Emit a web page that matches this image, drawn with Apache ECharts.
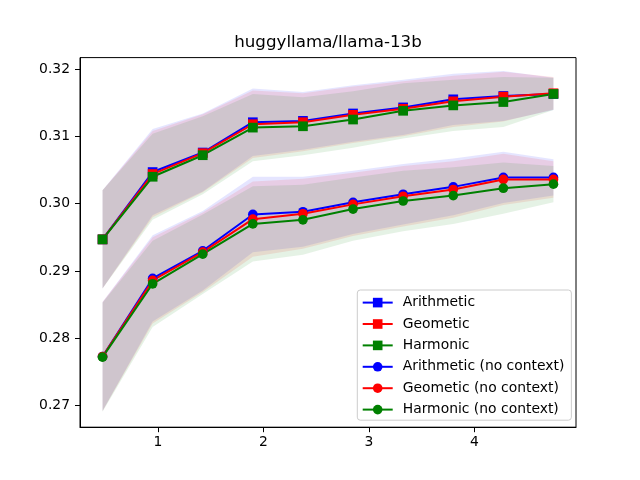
<!DOCTYPE html>
<html>
<head>
<meta charset="utf-8">
<script src="https://cdn.jsdelivr.net/npm/echarts@6/dist/echarts.min.js"></script>
<style>html,body{margin:0;padding:0;background:#fff}#c{width:640px;height:480px}</style>
</head>
<body>
<div id="c"></div>
<script>
const xs = [0.475, 0.95, 1.425, 1.9, 2.375, 2.85, 3.325, 3.8, 4.275, 4.75];
const xTicks = [1, 2, 3, 4];
const yTicks = [0.27, 0.28, 0.29, 0.30, 0.31, 0.32];

const arithmetic = [0.2947, 0.3047, 0.3076, 0.3121, 0.3123, 0.3134, 0.3143, 0.3155, 0.3160, 0.3163];
const geometric  = [0.2947, 0.3044, 0.3075, 0.3118, 0.3121, 0.3132, 0.3141, 0.3152, 0.3159, 0.3164];
const harmonic   = [0.2947, 0.3040, 0.3072, 0.3113, 0.3115, 0.3125, 0.3138, 0.3146, 0.3151, 0.3163];
const stdCtx     = [0.0073, 0.0064, 0.0058, 0.0050, 0.0043, 0.0042, 0.0041, 0.0038, 0.0037, 0.0024];

const arithmeticNC = [0.2773, 0.2889, 0.2930, 0.2984, 0.2988, 0.3002, 0.3014, 0.3025, 0.3039, 0.3039];
const geometricNC  = [0.2773, 0.2886, 0.2928, 0.2977, 0.2985, 0.2999, 0.3011, 0.3021, 0.3036, 0.3036];
const harmonicNC   = [0.2772, 0.2881, 0.2925, 0.2970, 0.2976, 0.2992, 0.3004, 0.3012, 0.3023, 0.3029];
const stdNC        = [0.0081, 0.0064, 0.0059, 0.0056, 0.0052, 0.0047, 0.0045, 0.0042, 0.0038, 0.0027];

const names = ['Arithmetic', 'Geometic', 'Harmonic', 'Arithmetic (no context)', 'Geometic (no context)', 'Harmonic (no context)'];

const FONT = 'DejaVu Sans';
const BLUE = '#0000ff', RED = '#ff0000', GREEN = '#008000';

function band(id, means, std, rgba) {
  return {
    type: 'custom', name: id, silent: true, z: 1, clip: true,
    data: [[xs[0], means[0]]],
    renderItem: function (params, api) {
      const pts = [];
      for (let i = 0; i < xs.length; i++) pts.push(api.coord([xs[i], means[i] + std[i]]));
      for (let i = xs.length - 1; i >= 0; i--) pts.push(api.coord([xs[i], means[i] - std[i]]));
      return { type: 'polygon', shape: { points: pts }, style: { fill: rgba, stroke: null } };
    }
  };
}
function line(name, vals, color, symbol) {
  return {
    type: 'line', name: name, z: 3,
    data: xs.map((x, i) => [x, vals[i]]),
    symbol: symbol, symbolSize: 9.7, showSymbol: true,
    lineStyle: { color: color, width: 2 },
    itemStyle: { color: color, borderColor: color, borderWidth: 0, opacity: 1 },
    emphasis: { disabled: true }, animation: false
  };
}

const chart = echarts.init(document.getElementById('c'), null, { renderer: 'canvas' });
chart.setOption({
  animation: false,
  backgroundColor: '#fff',
  title: {
    text: 'huggyllama/llama-13b', left: 328, top: 34, textAlign: 'center', padding: 0,
    textStyle: { fontFamily: FONT, fontSize: 16.7, fontWeight: 'normal', color: '#000' }
  },
  grid: { left: 80, right: 64, top: 57.6, bottom: 52.8, show: true, borderColor: '#000', borderWidth: 1, backgroundColor: 'transparent' },
  xAxis: {
    type: 'value', min: 0.26125, max: 4.96375,
    splitLine: { show: false },
    axisLine: { show: true, onZero: false, lineStyle: { color: '#000', width: 1 } },
    axisTick: { show: true, length: 5, inside: false, customValues: xTicks, lineStyle: { color: '#000' } },
    axisLabel: { customValues: xTicks, margin: 8, color: '#000', fontFamily: FONT, fontSize: 13.9, formatter: v => String(v) }
  },
  yAxis: {
    type: 'value', min: 0.2668, max: 0.3217,
    splitLine: { show: false },
    axisLine: { show: true, onZero: false, lineStyle: { color: '#000', width: 1 } },
    axisTick: { show: true, length: 5, inside: false, customValues: yTicks, lineStyle: { color: '#000' } },
    axisLabel: { customValues: yTicks, margin: 10, color: '#000', fontFamily: FONT, fontSize: 13.9, formatter: v => v.toFixed(2) }
  },
  legend: {
    data: names, orient: 'vertical', left: 357.3, top: 290,
    padding: [5.6, 7, 3.6, 4.4], itemWidth: 30, itemHeight: 12, itemGap: 7.4,
    backgroundColor: 'rgba(255,255,255,0.8)', borderColor: '#cccccc', borderWidth: 1, borderRadius: 3,
    textStyle: { fontFamily: FONT, fontSize: 13.9, color: '#000', padding: [0, 0, 0, 5] },
    selectedMode: false
  },
  series: [
    band('bA', arithmetic, stdCtx, 'rgba(0,0,255,0.1)'),
    band('bG', geometric, stdCtx, 'rgba(255,0,0,0.1)'),
    band('bH', harmonic, stdCtx, 'rgba(0,128,0,0.1)'),
    band('bAn', arithmeticNC, stdNC, 'rgba(0,0,255,0.1)'),
    band('bGn', geometricNC, stdNC, 'rgba(255,0,0,0.1)'),
    band('bHn', harmonicNC, stdNC, 'rgba(0,128,0,0.1)'),
    line(names[0], arithmetic, BLUE, 'rect'),
    line(names[1], geometric, RED, 'rect'),
    line(names[2], harmonic, GREEN, 'rect'),
    line(names[3], arithmeticNC, BLUE, 'circle'),
    line(names[4], geometricNC, RED, 'circle'),
    line(names[5], harmonicNC, GREEN, 'circle')
  ]
});
</script>
</body>
</html>
